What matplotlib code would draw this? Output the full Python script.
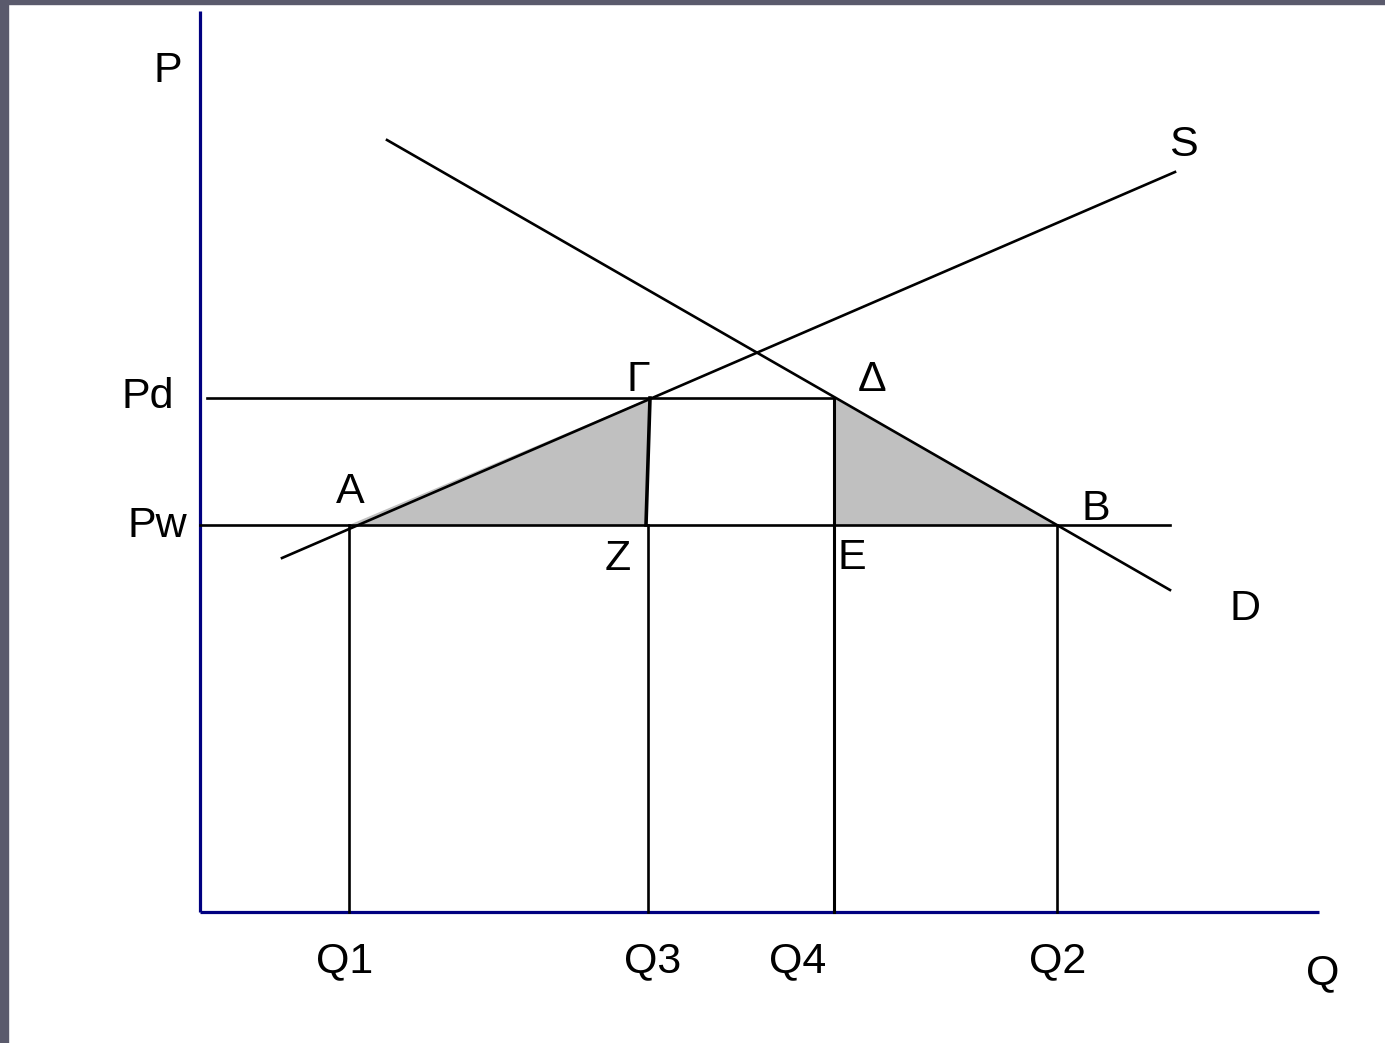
import matplotlib
matplotlib.use("Agg")
import matplotlib.pyplot as plt
from matplotlib.patches import Rectangle, Polygon

plt.rcParams['font.family'] = ['Liberation Sans', 'DejaVu Sans']

# ─── data (Q along x, P along y) ─────────────────────────────────────────────
supply_q = [0.82, 9.75]
supply_p = [3.54, 7.40]
demand_q = [1.87, 9.70]
demand_p = [7.72, 3.22]

p_world    = 3.87
p_domestic = 5.14

q_labels = ['Q1', 'Q3', 'Q4', 'Q2']
q_values = [1.49, 4.48, 6.34, 8.57]

# corner points of the two deadweight-loss triangles
pt_A     = (1.49, 3.87)
pt_Gamma = (4.50, 5.14)
pt_Z     = (4.46, 3.87)
pt_Delta = (6.34, 5.14)
pt_E     = (6.34, 3.87)
pt_B     = (8.57, 3.87)

W, H = 1385, 1043
fig = plt.figure(figsize=(W / 100, H / 100), dpi=100)
ax = fig.add_axes([0, 0, 1, 1])
ax.set_xlim(-2.00, 11.85)
ax.set_ylim(-1.31, 9.12)
ax.axis('off')

# slide background border
fig.patches.append(Rectangle((0, 0), 8 / W, 1, transform=fig.transFigure,
                             color='#5a5a6c', zorder=10))
fig.patches.append(Rectangle((0, 1 - 4 / H), 1, 4 / H, transform=fig.transFigure,
                             color='#5a5a6c', zorder=10))

LW = 1.9
NAVY = '#000080'

# axes
ax.plot([0, 0], [0, 9.01], color=NAVY, lw=2.3, solid_capstyle='butt')
ax.plot([0, 11.19], [0, 0], color=NAVY, lw=2.3, solid_capstyle='butt')

# shaded triangles
ax.add_patch(Polygon([pt_A, pt_Gamma, pt_Z], closed=True, facecolor='#c0c0c0',
                     edgecolor='none', zorder=1))
ax.add_patch(Polygon([pt_Delta, pt_B, pt_E], closed=True, facecolor='#c0c0c0',
                     edgecolor='none', zorder=1))

# supply and demand
ax.plot(supply_q, supply_p, color='black', lw=LW, zorder=3)
ax.plot(demand_q, demand_p, color='black', lw=LW, zorder=3)

# price lines
ax.plot([0.07, pt_Delta[0]], [p_domestic, p_domestic], color='black', lw=LW, zorder=3)
ax.plot([0, 9.70], [p_world, p_world], color='black', lw=LW, zorder=3)

# verticals down to the quantity axis
ax.plot([q_values[0], q_values[0]], [0, p_world], color='black', lw=LW, zorder=3)
ax.plot([pt_Gamma[0], pt_Z[0]], [pt_Gamma[1], pt_Z[1]], color='black', lw=2.6, zorder=3)
ax.plot([q_values[1], q_values[1]], [0, p_world], color='black', lw=LW, zorder=3)
ax.plot([q_values[2], q_values[2]], [0, p_domestic], color='black', lw=2.2, zorder=3)
ax.plot([q_values[3], q_values[3]], [0, p_world], color='black', lw=LW, zorder=3)

FS = 31
txt = dict(fontsize=FS, ha='center', va='center', color='black')

ax.text(-0.32, 8.41, 'P', **txt)
ax.text(11.23, -0.61, 'Q', **txt)
ax.text(9.83, 7.67, 'S', **txt)
ax.text(10.45, 3.03, 'D', **txt)
ax.text(-0.52, 5.15, 'Pd', **txt)
ax.text(-0.43, 3.86, 'Pw', **txt)
ax.text(4.38, 5.32, 'Γ', **txt)
ax.text(6.72, 5.32, 'Δ', **txt)
ax.text(1.50, 4.20, 'A', **txt)
ax.text(8.96, 4.03, 'B', **txt)
ax.text(4.18, 3.53, 'Z', **txt)
ax.text(6.52, 3.54, 'E', **txt)

q_label_x = [1.45, 4.53, 5.98, 8.58]
for lab, qx in zip(q_labels, q_label_x):
    ax.text(qx, -0.49, lab, **txt)

fig.savefig('out.png', dpi=100)
